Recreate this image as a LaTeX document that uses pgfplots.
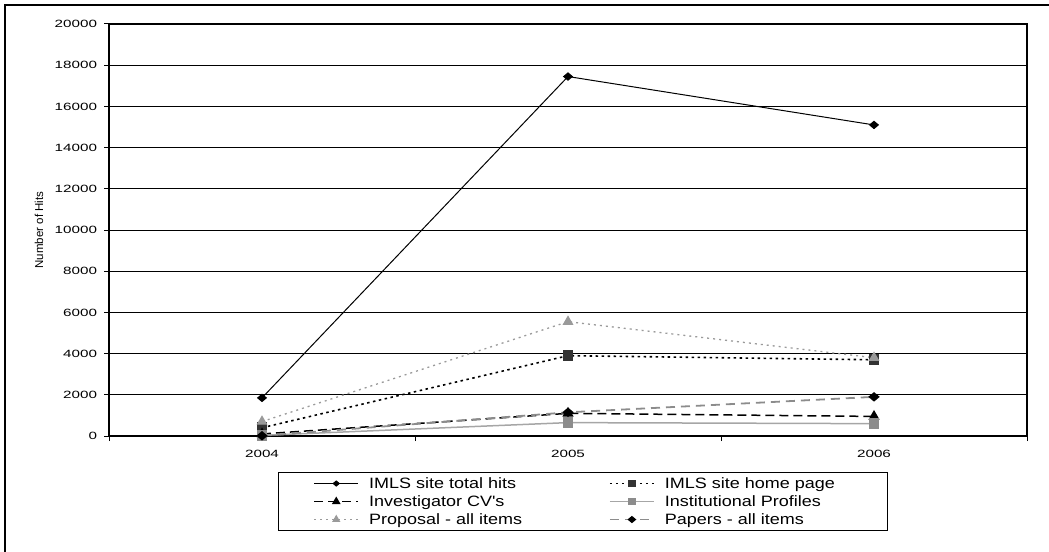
\documentclass[border=0pt]{standalone}
\usepackage{pgfplots}
\pgfplotsset{compat=1.18}
\usepackage{fontspec}
\setmainfont{Liberation Sans}
\newfontfamily\legfam[FakeStretch=1.2]{Liberation Sans}
% horizontally widened tick text
\newcommand{\wide}[1]{\scalebox{1.45}[1]{#1}}

\definecolor{darkmark}{HTML}{333333}
\definecolor{instline}{HTML}{A6A6A6}
\definecolor{instmark}{HTML}{8C8C8C}
\definecolor{propgray}{HTML}{9A9A9A}
\definecolor{papgray}{HTML}{8C8C8C}

\begin{document}
\begin{tikzpicture}[x=1bp,y=1bp]
\useasboundingbox (0,0) rectangle (1049,-552);
\draw[line width=1.5bp] (5,-552) -- (5,-5) -- (1049,-5);
\begin{axis}[
  at={(109bp,-436bp)}, anchor=south west,
  scale only axis, width=918bp, height=412bp,
  xmin=-0.5, xmax=2.5, ymin=0, ymax=20000,
  ytick={0,2000,...,20000},
  scaled y ticks=false,
  ymajorgrids,
  major grid style={black, line width=0.8bp},
  axis line style={line width=1.4bp},
  xtick={-0.5,0.5,1.5,2.5}, xticklabels={},
  extra x ticks={0,1,2},
  extra x tick labels={\wide{2004},\wide{2005},\wide{2006}},
  extra x tick style={major tick length=0pt, grid=none,
    xticklabel style={yshift=-11bp}},
  xtick pos=bottom, ytick pos=left,
  tick align=outside, major tick length=5bp,
  tick style={black, line width=1bp},
  /pgf/number format/assume math mode=true,
  /pgf/number format/set thousands separator={},
  /pgf/number format/fixed,
  /pgf/number format/precision=0,
  yticklabel={\wide{\pgfmathprintnumber{\tick}}},
  ticklabel style={font=\fontsize{10.5bp}{12bp}\selectfont},
  yticklabel style={xshift=-3.5bp},
  ylabel={Number of Hits},
  ylabel style={at={(axis description cs:-0.0763,0.5)}, anchor=center,
    font=\fontsize{11.5bp}{13bp}\selectfont},
  legend columns=2,
  legend image code/.code={
    \path (0bp,0bp);
    \draw[mark repeat=2, mark phase=2, #1,
      /tikz/every mark/.append style={scale=0.7}]
      plot coordinates {(32bp,0bp) (54bp,0bp) (76bp,0bp)};
  },
  legend style={
    at={(axis description cs:0.1841,-0.0874)}, anchor=north west,
    draw=black, line width=1bp,
    inner xsep=3bp, inner ysep=4bp, row sep=4bp,
    font=\legfam\fontsize{15bp}{18bp}\selectfont,
    nodes={inner sep=0pt, anchor=west, text height=12bp, text depth=2bp},
    /tikz/every even column/.append style={column sep=10bp},
    /tikz/every odd column/.append style={column sep=10bp},
  },
]
% IMLS site total hits
\addplot[black, line width=1bp, mark=diamond*, mark size=3.6bp,
  mark options={solid, fill=black, xscale=1.6}]
  coordinates {(0,1850) (1,17450) (2,15100)};
\addlegendentry{\makebox[198bp][l]{IMLS site total hits}}
% IMLS site home page
\addplot[black, line width=1.6bp, dash pattern=on 2.5bp off 3.5bp,
  mark=square*, mark size=4.5bp, mark options={solid, fill=darkmark, draw=darkmark}]
  coordinates {(0,400) (1,3900) (2,3700)};
\addlegendentry{\makebox[220bp][l]{IMLS site home page}}
% Investigator CV's
\addplot[black, line width=1.5bp, dash pattern=on 9bp off 5bp,
  mark=triangle*, mark size=5bp, mark options={solid, fill=black}]
  coordinates {(0,100) (1,1100) (2,950)};
\addlegendentry{\makebox[198bp][l]{Investigator CV's}}
% Institutional Profiles
\addplot[instline, line width=1.5bp,
  mark=square*, mark size=4.5bp, mark options={solid, fill=instmark, draw=instmark}]
  coordinates {(0,30) (1,650) (2,600)};
\addlegendentry{\makebox[220bp][l]{Institutional Profiles}}
% Proposal - all items
\addplot[propgray, line width=1.3bp, dash pattern=on 2bp off 4bp,
  mark=triangle*, mark size=5bp, mark options={solid, fill=propgray, draw=propgray}]
  coordinates {(0,700) (1,5550) (2,3800)};
\addlegendentry{\makebox[198bp][l]{Proposal - all items}}
% Papers - all items
\addplot[papgray, line width=1.8bp, dash pattern=on 9bp off 6bp,
  mark=diamond*, mark size=3.6bp, mark options={solid, fill=black, draw=black, xscale=1.6}]
  coordinates {(0,10) (1,1150) (2,1900)};
\addlegendentry{\makebox[220bp][l]{Papers - all items}}
\end{axis}
\end{tikzpicture}
\end{document}
